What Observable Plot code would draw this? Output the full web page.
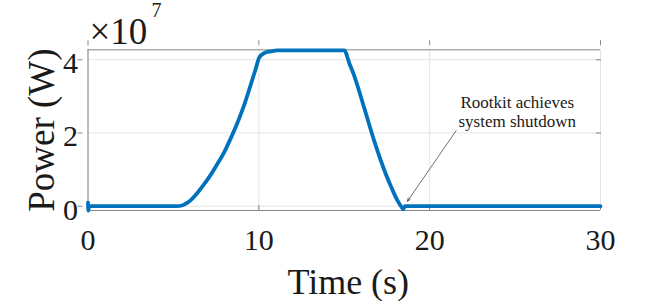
<!DOCTYPE html>
<html><head><meta charset="utf-8">
<script src="https://cdn.jsdelivr.net/npm/d3@7"></script>
<script src="https://cdn.jsdelivr.net/npm/@observablehq/plot@0.6"></script>
<style>
html,body{margin:0;padding:0;background:#fff;}
#chart svg{display:block;}
</style>
</head><body><div id="chart"></div>
<script>
// ---- data ----
const time    = [0, 0.02, 0.06, 5.2, 5.5, 5.8, 6.0, 6.4, 6.8, 7.2, 7.58, 8.0, 8.36, 8.75, 9.14, 9.5, 9.82, 10.02, 10.3, 10.7, 11.1, 15.0, 15.3, 15.57, 16.16, 16.75, 17.43, 17.8, 18.11, 18.35, 18.46, 18.55, 30];
const powerE7 = [0.1, -0.12, 0, 0, 0.02, 0.09, 0.16, 0.36, 0.60, 0.87, 1.16, 1.50, 1.86, 2.28, 2.76, 3.28, 3.76, 4.06, 4.18, 4.23, 4.26, 4.26, 3.90, 3.58, 2.70, 1.79, 0.88, 0.47, 0.16, -0.02, -0.08, 0, 0];
const scaleFactor = 1e7;
const xTicks = [0, 10, 20, 30];
const yTicksE7 = [0, 2, 4];
const yTickLabels = ["0", "2", "4"];
const xDomain = [0, 30];
const yDomainE7 = [-0.1175, 4.273];
const xLabel = "Time (s)";
const yLabel = "Power (W)";
const exponentBase = "×10";
const exponentPower = "7";
const annotationText = "Rootkit achieves\nsystem shutdown";
const annotationX = [25.13];
const annotationYE7 = [2.154];
const arrowX1 = [21.55], arrowY1E7 = [2.064];
const arrowX2 = [18.70], arrowY2E7 = [0.136];

// ---- build ----
const data = time.map((t, i) => ({t, p: powerE7[i] * scaleFactor}));
const yTicks = yTicksE7.map(v => v * scaleFactor);
const yDomain = yDomainE7.map(v => v * scaleFactor);
const annotation = annotationX.map((x, i) => ({x, y: annotationYE7[i] * scaleFactor, text: annotationText}));
const arrows = arrowX1.map((x, i) => ({x1: x, y1: arrowY1E7[i] * scaleFactor, x2: arrowX2[i], y2: arrowY2E7[i] * scaleFactor}));

const serif = "Liberation Serif";
const axisColor = "#868686";
const gridColor = "#e4e4e4";
const textColor = "#1a1a1a";
const T = {fontFamily: serif, fill: textColor};

const chart = Plot.plot({
  width: 664, height: 301,
  marginLeft: 87.5, marginRight: 64, marginTop: 49.3, marginBottom: 91,
  x: {domain: xDomain, axis: null},
  y: {domain: yDomain, axis: null},
  style: {fontFamily: serif, background: "white", color: textColor, overflow: "visible"},
  marks: [
    Plot.gridX(xTicks, {stroke: gridColor, strokeOpacity: 1}),
    Plot.gridY(yTicks, {stroke: gridColor, strokeOpacity: 1}),
    Plot.ruleX([xDomain[0]], {stroke: axisColor}),
    Plot.ruleY(yDomain, {stroke: axisColor}),
    Plot.axisX(xTicks, {anchor: "bottom", tickSize: 5, dy: -5, text: null, label: null, stroke: axisColor}),
    Plot.axisX(xTicks, {anchor: "top", tickSize: 5, dy: -5, text: null, label: null, stroke: axisColor}),
    Plot.axisY(yTicks, {anchor: "left", tickSize: 5, dx: -5, text: null, label: null, stroke: axisColor}),
    Plot.axisY(yTicks, {anchor: "right", tickSize: 5, dx: -5, text: null, label: null, stroke: axisColor}),
    Plot.line(data, {x: "t", y: "p", stroke: "#0072BD", strokeWidth: 3.8, strokeLinejoin: "round", curve: "monotone-x"}),
    Plot.arrow(arrows, {x1: "x1", y1: "y1", x2: "x2", y2: "y2", stroke: "#333", strokeWidth: 0.7, headLength: 7, headAngle: 45}),
    Plot.text(annotation, {x: "x", y: "y", text: "text", lineAnchor: "bottom", lineHeight: 1.14, fontSize: 17, ...T}),
    Plot.text(xTicks, {x: d => d, text: d => String(d), frameAnchor: "bottom", textAnchor: "middle", lineAnchor: "bottom", dy: 39, fontSize: 30, ...T}),
    Plot.text(yTicks, {y: d => d, text: (d, i) => yTickLabels[i], frameAnchor: "left", textAnchor: "end", lineAnchor: "bottom", dx: -10, dy: 13.5, fontSize: 30, ...T}),
    Plot.text([xLabel], {text: d => d, frameAnchor: "bottom", textAnchor: "middle", lineAnchor: "bottom", dx: 4, dy: 83, fontSize: 36, ...T}),
    Plot.text([yLabel], {text: d => d, frameAnchor: "left", textAnchor: "middle", rotate: -90, lineAnchor: "bottom", dx: -34.5, fontSize: 37, ...T}),
    Plot.text([exponentBase], {text: d => d, frameAnchor: "top-left", textAnchor: "start", lineAnchor: "bottom", dx: 1.5, dy: -6, fontSize: 37, ...T}),
    Plot.text([exponentPower], {text: d => d, frameAnchor: "top-left", textAnchor: "start", lineAnchor: "bottom", dx: 63.5, dy: -33, fontSize: 20, ...T})
  ]
});
document.getElementById("chart").appendChild(chart);
</script>
</body></html>
